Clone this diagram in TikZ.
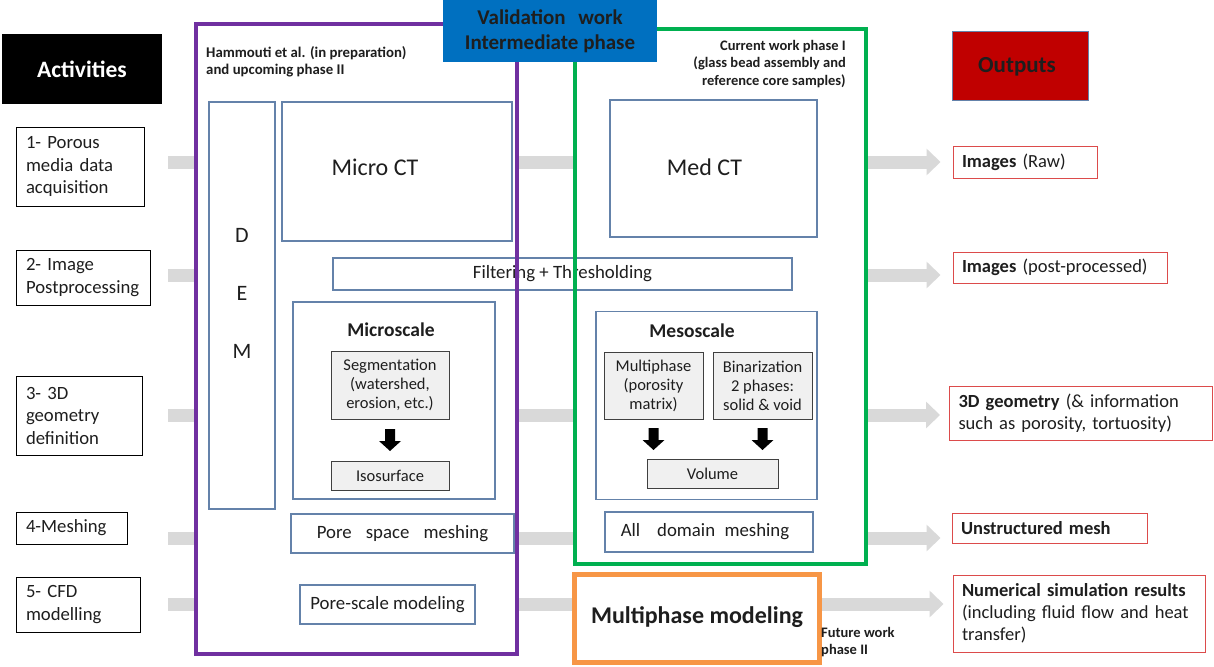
\documentclass[tikz,border=0pt]{standalone}
\usepackage{fontspec}
\setmainfont{Carlito}
\usetikzlibrary{arrows.meta,calc}
\definecolor{txt}{RGB}{30,30,30}
\definecolor{bluegray}{RGB}{100,130,170}
\definecolor{outred}{RGB}{220,75,75}
\definecolor{barg}{RGB}{217,217,217}
\definecolor{grayfill}{RGB}{240,240,240}
\definecolor{grayline}{RGB}{64,64,64}
\definecolor{purp}{RGB}{112,48,160}
\definecolor{grn}{RGB}{0,176,80}
\definecolor{orng}{RGB}{247,150,70}
\definecolor{valblue}{RGB}{0,112,192}
\definecolor{darkred}{RGB}{192,0,0}
\begin{document}
\begin{tikzpicture}[x=1pt,y=-1pt,
  every node/.style={text=txt, inner sep=0pt},
  actbox/.style={draw=black, line width=1pt, fill=white, align=left, inner xsep=10pt,
     font=\fontsize{18.7}{22.5}\selectfont},
  outbox/.style={draw=outred, line width=1pt, fill=white, align=left, inner xsep=9pt,
     font=\fontsize{18.5}{22}\selectfont},
  thinbox/.style={draw=bluegray, line width=1.1pt, fill=white},
  midtext/.style={font=\fontsize{18.8}{22}\selectfont},
  graybox/.style={draw=grayline, line width=1pt, fill=grayfill, align=center,
     font=\fontsize{16.5}{19}\selectfont},
  bar/.style={draw=barg, line width=13pt, -{Triangle[width=26pt,length=14pt]}},
  frame/.style={line width=4.5pt},
  darr/.pic={\fill[black] (-5,-11) -- (5,-11) -- (5,1) -- (11,1) -- (0,11) -- (-11,1) -- (-5,1) -- cycle;}
]
\useasboundingbox[fill=white] (0,0) rectangle (1214,666);

% headers
\node[fill=black, minimum width=160pt, minimum height=70pt, text=white,
      font=\bfseries\fontsize{23.5}{27}\selectfont] (activities) at (82,69) {Activities};
\node[fill=darkred, draw=bluegray, line width=1pt, minimum width=136pt, minimum height=69pt,
      font=\bfseries\fontsize{23}{27}\selectfont] (outputs) at (1020,66.5) {\hspace*{-6pt}Outputs};

% activities
\node[actbox, text width=108pt, minimum height=79pt] (act1) at (80,166.5) {1- Porous\\media data\\acquisition};
\node[actbox, text width=114pt, minimum height=55pt] (act2) at (83,277.5) {2- Image\\Postprocessing};
\node[actbox, text width=106pt, minimum height=79pt] (act3) at (79,415.5) {3- 3D\\geometry\\definition};
\node[actbox, text width=91pt, minimum height=32pt] (act4) at (71.5,528) {4-Meshing};
\node[actbox, text width=104pt, minimum height=55pt] (act5) at (78,604.5) {5- CFD\\modelling};

% outputs
\node[outbox, text width=126pt, minimum height=32pt] (out1) at (1025,162) {\textbf{Images} (Raw)};
\node[outbox, text width=196pt, minimum height=31pt] (out2) at (1060,267.5) {\textbf{Images} (post-processed)};
\node[outbox, text width=245pt, minimum height=54pt] (out3) at (1081,413) {\textbf{3D geometry} (\& information\\such as porosity, tortuosity)};
\node[outbox, text width=177pt, minimum height=30pt] (out4) at (1049.5,528) {\textbf{Unstructured mesh}};
\node[outbox, text width=234pt, minimum height=77pt] (out5) at (1079,613.5) {\textbf{Numerical simulation results}\\(including fluid flow and heat\\transfer)};

% bars
\coordinate (b1) at (168,162);
\coordinate (b2) at (168,275);
\coordinate (b3) at (168,415);
\coordinate (b4) at (168,538);
\coordinate (b5) at (168,604);
\draw[bar] (b1) -- ([xshift=-12pt]b1 -| out1.west);
\draw[bar] (b2) -- ([xshift=-12pt]b2 -| out2.west);
\draw[bar] (b3) -- ([xshift=-9pt]b3 -| out3.west);
\draw[bar] (b4) -- ([xshift=-11pt]b4 -| out4.west);
\draw[bar] (b5) -- ([xshift=-9pt]b5 -| out5.west);

% frames (white fill)
\node[fill=white, minimum width=321pt, minimum height=630pt] (pframe) at (356.5,339) {};
\node[fill=white, minimum width=291pt, minimum height=535pt] (gframe) at (720.5,296.5) {};
\node[fill=white, minimum width=244pt, minimum height=87pt] (oframe) at (697,618.5) {};

% purple content
\node[thinbox, minimum width=66pt, minimum height=407pt] (dem) at (242,305.5) {};
\node[align=center, font=\fontsize{22}{58}\selectfont] (demlbl) at (242,293) {D\\E\\M};
\node[thinbox, minimum width=230pt, minimum height=139pt] (microct) at (397,171.5) {};
\node[font=\fontsize{24}{28}\selectfont] (microlbl) at (375,167) {Micro CT};
\node[thinbox, minimum width=202pt, minimum height=197pt] (micro) at (394,400.5) {};
\node[font=\bfseries\fontsize{19.5}{22}\selectfont] (microscale) at (391,330) {Microscale};
\node[graybox, minimum width=118pt, minimum height=68pt] (seg) at (390,385) {Segmentation\\(watershed,\\erosion, etc.)};
\node[graybox, minimum width=118pt, minimum height=29pt] (iso) at (390,475.5) {Isosurface};
\pic at ($(seg.south)!0.5!(iso.north)$) {darr};
\node[thinbox, minimum width=223pt, minimum height=39pt, midtext] (porespace) at (402.5,533.5) {Pore\hspace{0.75em}space\hspace{0.75em}meshing};
\node[thinbox, minimum width=175pt, minimum height=39pt, midtext] (porescale) at (387.5,604.5) {Pore-scale modeling};

% shared filtering box
\node[thinbox, minimum width=459pt, minimum height=32pt, midtext] (filter) at (562.5,274) {Filtering + Thresholding};

% green content
\node[thinbox, minimum width=207pt, minimum height=137pt] (medct) at (713.5,168.5) {};
\node[font=\fontsize{24}{28}\selectfont] (medlbl) at (704.5,167) {Med CT};
\node[thinbox, minimum width=221pt, minimum height=188pt] (meso) at (706.5,405.5) {};
\node[font=\bfseries\fontsize{19.5}{22}\selectfont] (mesoscale) at (692,331) {Mesoscale};
\node[graybox, minimum width=99pt, minimum height=67pt] (multi) at (653.5,385.5) {Multiphase\\(porosity\\matrix)};
\node[graybox, minimum width=99pt, minimum height=67pt] (binar) at (762.5,385.5) {Binarization\\2 phases:\\solid \& void};
\node[graybox, minimum width=131pt, minimum height=29pt] (volume) at (712.5,473.5) {Volume};
\pic at ($(multi.south)!0.5!(multi.south |- volume.north)$) {darr};
\pic at ($(binar.south)!0.5!(binar.south |- volume.north)$) {darr};
\node[thinbox, minimum width=208pt, minimum height=40pt, midtext] (alldomain) at (709,532) {All\hspace{0.9em}domain\hspace{0.5em}meshing\hspace*{8pt}};

% frame borders
\draw[frame, draw=purp] (pframe.north west) rectangle (pframe.south east);
\draw[frame, draw=grn] (gframe.north west) rectangle (gframe.south east);
\draw[line width=5pt, draw=orng] (oframe.north west) rectangle (oframe.south east);
\node[font=\bfseries\fontsize{24}{28}\selectfont] (multimod) at (697,617) {Multiphase modeling};

% frame captions
\node[anchor=west, align=left, font=\bfseries\fontsize{14.8}{17}\selectfont] (hamm) at (206,61.5) {Hammouti et al. (in preparation)\\and upcoming phase II};
\node[anchor=east, align=right, font=\bfseries\fontsize{14.5}{17.5}\selectfont] (curr) at (846,64) {Current work phase I\\(glass bead assembly and\\reference core samples)};
\node[anchor=west, align=left, font=\bfseries\fontsize{14.5}{17}\selectfont] (future) at (821,642.5) {Future work\\phase II};

% validation box
\node[fill=valblue, minimum width=214pt, minimum height=62pt, align=center,
      font=\bfseries\fontsize{21}{25}\selectfont] (valid) at (550,31) {Validation\hspace{0.6em}work\\Intermediate phase};
\end{tikzpicture}
\end{document}
